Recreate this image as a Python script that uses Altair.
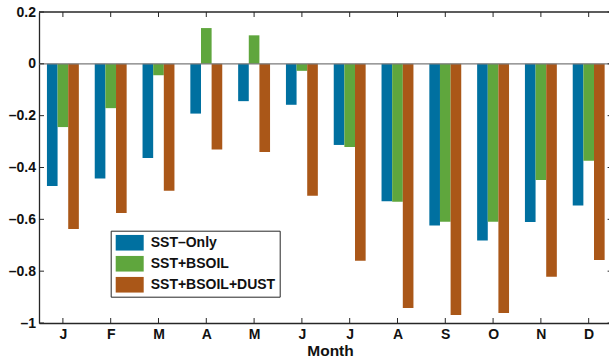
import json
import altair as alt
import pandas as pd

# ---- data ----
months = ["J", "F", "M", "A", "M", "J", "J", "A", "S", "O", "N", "D"]
series = ["SST\u2013Only", "SST+BSOIL", "SST+BSOIL+DUST"]
sst_only = [-0.471, -0.442, -0.363, -0.192, -0.144, -0.158, -0.313, -0.530, -0.624, -0.682, -0.610, -0.547]
sst_bsoil = [-0.244, -0.171, -0.044, 0.138, 0.110, -0.027, -0.321, -0.532, -0.609, -0.609, -0.448, -0.374]
sst_bsoil_dust = [-0.637, -0.576, -0.490, -0.331, -0.340, -0.509, -0.760, -0.942, -0.969, -0.961, -0.822, -0.757]
y_ticks = [0.2, 0, -0.2, -0.4, -0.6, -0.8, -1]
colors = ["#0070A0", "#5FA63D", "#AA5718"]

# ---- tables ----
rows = []
for s_idx, (name, vals) in enumerate(zip(series, [sst_only, sst_bsoil, sst_bsoil_dust])):
    for m_idx, v in enumerate(vals):
        rows.append({"m": m_idx + 1, "s": s_idx, "series": name, "value": v})
df = pd.DataFrame(rows)
month_df = pd.DataFrame({"m": list(range(1, len(months) + 1))})
ytick_df = pd.DataFrame({"value": y_ticks})
zero_df = pd.DataFrame({"value": [0]})
top_df = pd.DataFrame({"value": [max(y_ticks)]})

FONT = "Liberation Sans"
AX = "#262626"
W, H = 570, 311
BW = 0.2225  # bar width in month units

xscale = alt.Scale(domain=[0.5, 12.425], nice=False, zero=False)
yscale = alt.Scale(domain=[-1, 0.2], nice=False, zero=False)

label_expr = json.dumps(months) + "[datum.value - 1]"

xaxis = alt.Axis(values=list(range(1, 13)), labelExpr=label_expr,
                 title="Month", tickSize=0, grid=False,
                 labelPadding=4, titleX=291, titleY=32,
                 titleBaseline="alphabetic", titleAlign="center")
yaxis = alt.Axis(values=y_ticks, title=None, tickSize=0, grid=False, labelPadding=3.5,
                 labelExpr="replace(format(datum.value, '~g'), /[-\u2212]/, '\u2013')")

bars = alt.Chart(df).transform_calculate(
    x0=f"datum.m + (datum.s - 1) * {BW} - {BW / 2}",
    x1=f"datum.m + (datum.s - 1) * {BW} + {BW / 2}",
).mark_bar(strokeWidth=0).encode(
    x=alt.X("x0:Q", scale=xscale, axis=xaxis, title="Month"),
    x2="x1:Q",
    y=alt.Y("value:Q", scale=yscale, axis=yaxis, title=None),
    y2=alt.datum(0),
    color=alt.Color("series:N", scale=alt.Scale(domain=series, range=colors),
                    sort=series,
                    legend=alt.Legend(orient="none", legendX=71.7, legendY=218.7,
                                      title=None,
                                      symbolType="M-1.4,-0.8L1.4,-0.8L1.4,0.8L-1.4,0.8Z",
                                      symbolSize=400, symbolStrokeWidth=0,
                                      clipHeight=16, rowPadding=5, padding=4,
                                      symbolOffset=5, labelOffset=11,
                                      labelFontSize=14, labelFont=FONT,
                                      labelFontWeight="bold", labelColor="#111111",
                                      strokeColor=AX, fillColor="white",
                                      labelLimit=400)),
)

zero_line = alt.Chart(zero_df).mark_rule(color="#7a7a7a", strokeWidth=1.3).encode(
    y=alt.Y("value:Q", scale=yscale, axis=yaxis, title=None))
top_line = alt.Chart(top_df).mark_rule(color=AX, strokeWidth=1.3).encode(
    y=alt.Y("value:Q", scale=yscale, axis=yaxis, title=None))

left_ticks = alt.Chart(ytick_df).mark_rule(color=AX, strokeWidth=1).encode(
    y=alt.Y("value:Q", scale=yscale, axis=yaxis, title=None),
    x=alt.value(0), x2=alt.value(5))
right_ticks = alt.Chart(ytick_df).mark_rule(color=AX, strokeWidth=1).encode(
    y=alt.Y("value:Q", scale=yscale, axis=yaxis, title=None),
    x=alt.value(568.6), x2=alt.value(573.6))
top_ticks = alt.Chart(month_df).mark_rule(color=AX, strokeWidth=1).encode(
    x=alt.X("m:Q", scale=xscale, axis=xaxis, title="Month"),
    y=alt.value(0), y2=alt.value(5))
bottom_ticks = alt.Chart(month_df).mark_rule(color=AX, strokeWidth=1).encode(
    x=alt.X("m:Q", scale=xscale, axis=xaxis, title="Month"),
    y=alt.value(H - 5), y2=alt.value(H))

chart = alt.layer(
    bars, zero_line, top_line, left_ticks, right_ticks, top_ticks, bottom_ticks
).properties(
    width=W, height=H,
    autosize=alt.AutoSizeParams(type="none"),
    padding={"left": 39, "top": 12, "right": 0, "bottom": 36},
).configure_view(stroke=None).configure_axis(
    domainColor=AX, domainWidth=1.3,
    labelFont=FONT, labelFontSize=14, labelFontWeight="bold", labelColor="#111111",
    titleFont=FONT, titleFontSize=15.5, titleFontWeight="bold", titleColor="#111111",
)

chart.save("out.html", embed_options={"renderer": "svg", "actions": False})
